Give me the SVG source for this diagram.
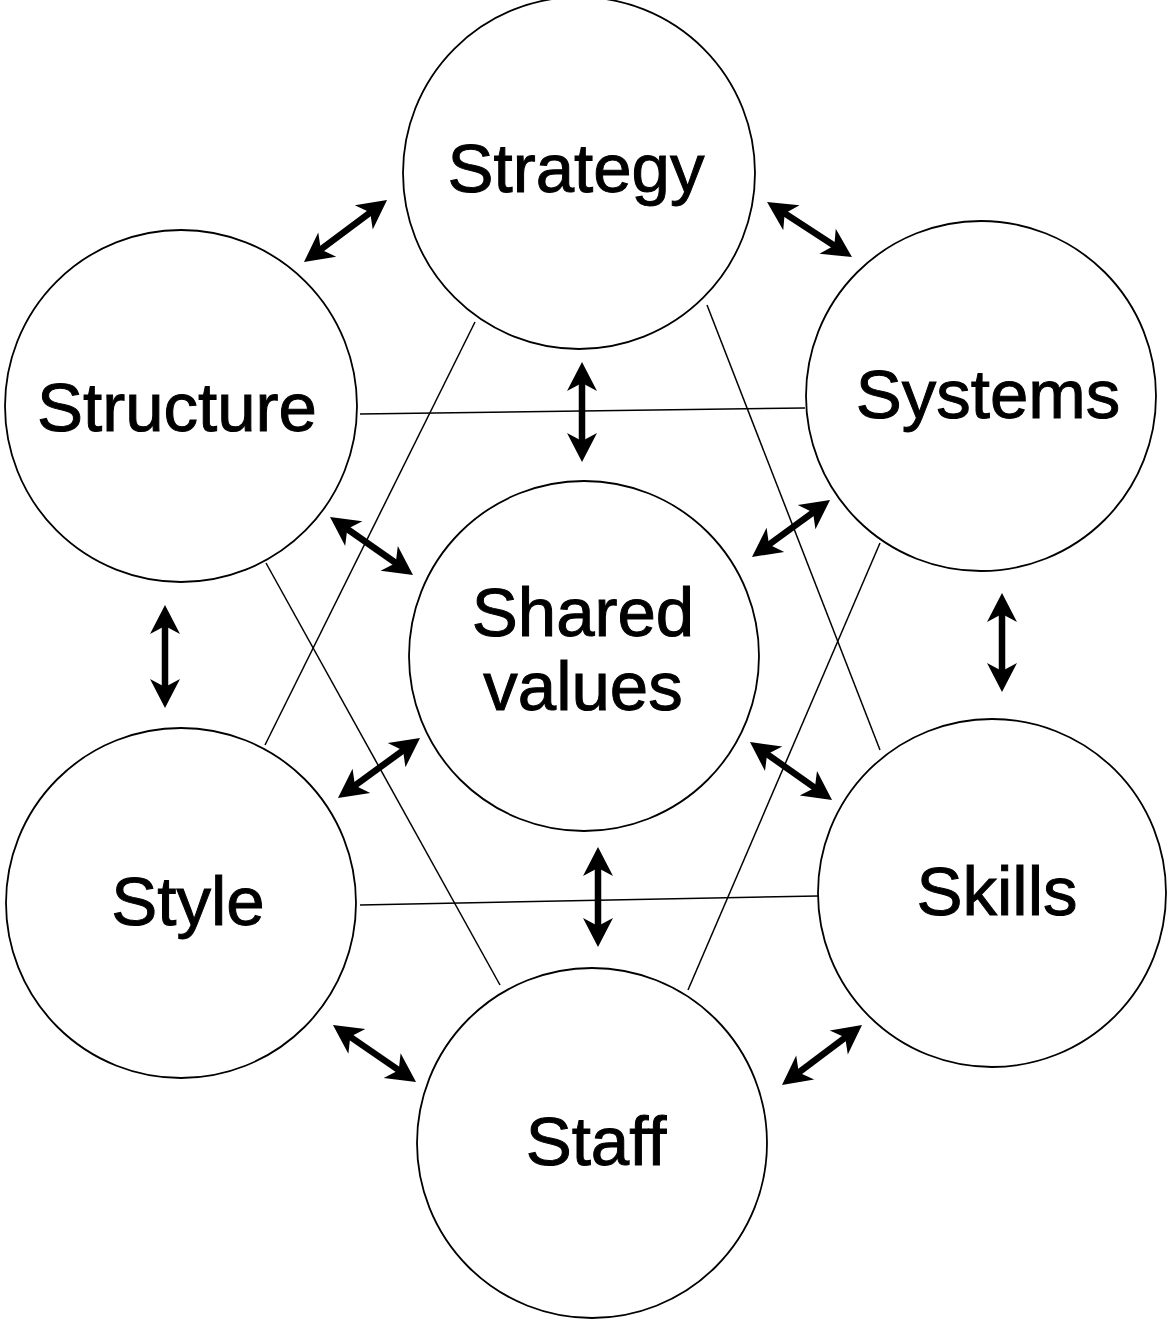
<svg xmlns="http://www.w3.org/2000/svg" width="1168" height="1320" viewBox="0 0 1168 1320">
<style>
.node circle{fill:none;stroke:#000;stroke-width:1.8}
.node text{font-family:"Liberation Sans",Arial,sans-serif;font-size:69px;fill:#000;stroke:#000;stroke-width:1;text-anchor:middle}
.hex line{stroke:#000;stroke-width:1.5}
.arr line{stroke:#000;stroke-width:6.5;marker-start:url(#head);marker-end:url(#head)}
</style>
<defs>
<marker id="head" viewBox="0 0 30 32" refX="16" refY="16" markerWidth="30" markerHeight="32" markerUnits="userSpaceOnUse" orient="auto-start-reverse">
<path d="M30,16 L1,1 L9,16 L1,31 Z" fill="#000"/>
</marker>
</defs>
<rect width="1168" height="1320" fill="#fff"/>
<g id="hexagon" class="hex">
<line x1="475" y1="322" x2="265" y2="745"/>
<line x1="707" y1="305" x2="880" y2="750"/>
<line x1="360" y1="414" x2="805" y2="408"/>
<line x1="266" y1="563" x2="500" y2="985"/>
<line x1="880" y1="543" x2="688" y2="990"/>
<line x1="360" y1="905" x2="818" y2="896"/>
</g>
<g id="strategy" class="node"><circle cx="579" cy="173" r="176"/><text x="576" y="192">Strategy</text></g>
<g id="structure" class="node"><circle cx="181" cy="406" r="176"/><text x="177" y="431">Structure</text></g>
<g id="systems" class="node"><circle cx="981" cy="396" r="175"/><text x="988" y="418">Systems</text></g>
<g id="shared-values" class="node"><circle cx="584" cy="656" r="175"/><text x="583" y="636">Shared</text><text x="583" y="710">values</text></g>
<g id="style" class="node"><circle cx="181" cy="903" r="175"/><text x="188" y="925">Style</text></g>
<g id="skills" class="node"><circle cx="992" cy="893" r="174"/><text x="997" y="915">Skills</text></g>
<g id="staff" class="node"><circle cx="592" cy="1143" r="175"/><text x="596" y="1165">Staff</text></g>
<g id="connectors" class="arr">
<line x1="315.2" y1="253.6" x2="375.8" y2="208.4"/>
<line x1="582" y1="376" x2="582" y2="448"/>
<line x1="341.5" y1="525" x2="401.5" y2="567"/>
<line x1="778.8" y1="209.6" x2="840.2" y2="249.4"/>
<line x1="1002" y1="607" x2="1002" y2="678"/>
<line x1="763.3" y1="548.7" x2="818.7" y2="508.3"/>
<line x1="165" y1="619" x2="165" y2="694"/>
<line x1="349.3" y1="789.7" x2="408.7" y2="746.3"/>
<line x1="761.4" y1="750.1" x2="820.6" y2="791.9"/>
<line x1="598" y1="861" x2="598" y2="933"/>
<line x1="344.5" y1="1032.9" x2="404.5" y2="1074.1"/>
<line x1="793.2" y1="1076.6" x2="850.8" y2="1033.4"/>
</g>
</svg>
